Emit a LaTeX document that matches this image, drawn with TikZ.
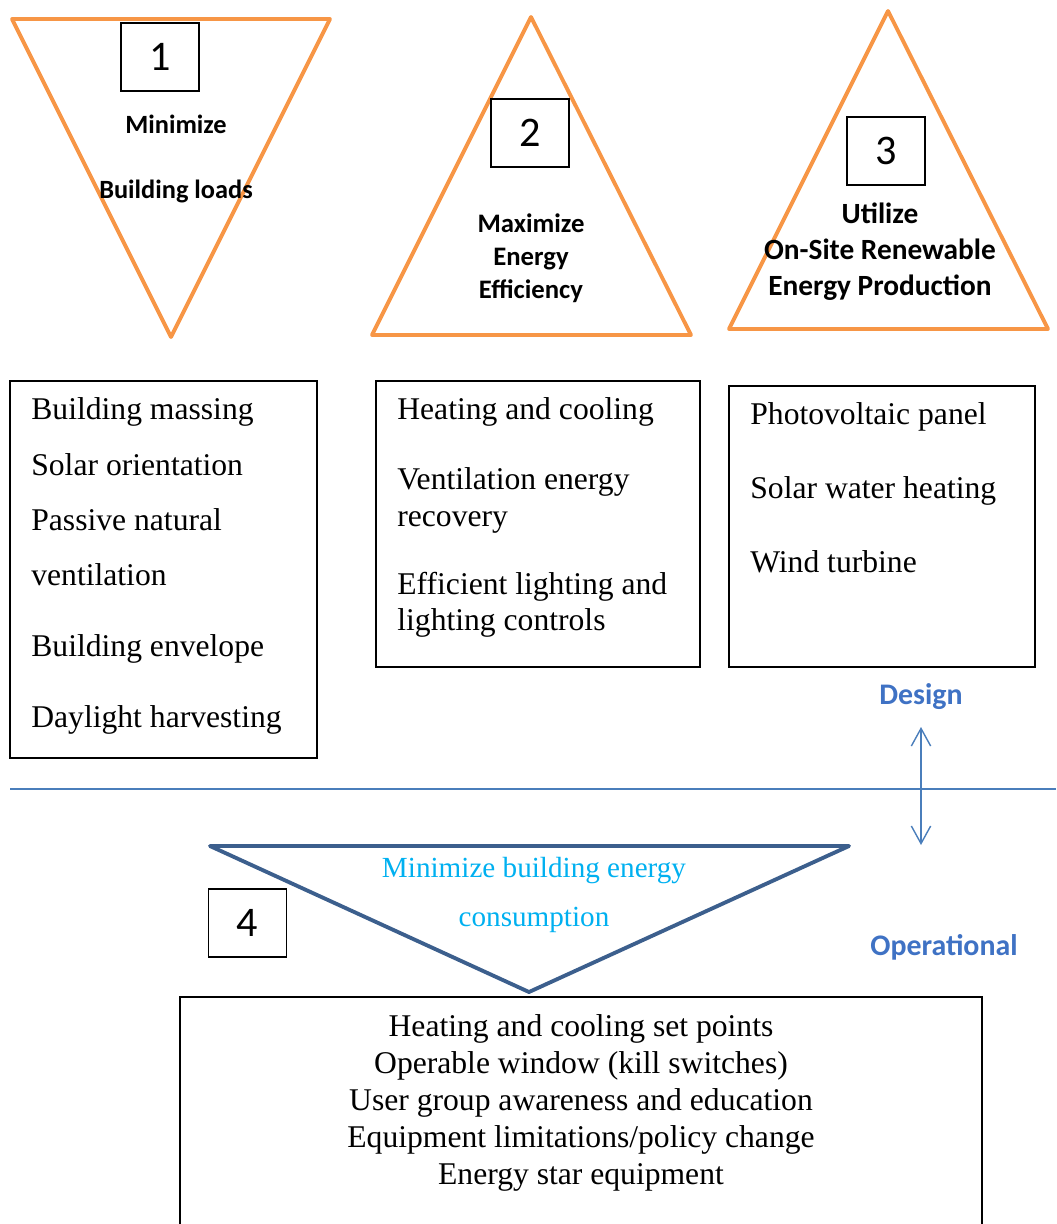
\documentclass[tikz,border=0pt]{standalone}
\usepackage{fontspec}
\setmainfont{Liberation Serif}
\newfontfamily\calfont{Carlito}
\usetikzlibrary{arrows.meta}

\definecolor{triorange}{HTML}{F79646}
\definecolor{tridblue}{HTML}{3C5F8D}
\definecolor{lineblue}{HTML}{4A7EBB}
\definecolor{cyantext}{HTML}{00B0F0}
\definecolor{labelblue}{HTML}{3F72C4}

\begin{document}
\begin{tikzpicture}[x=0.02cm,y=-0.02cm]
	\tikzstyle{tri}=[line width=2.2pt, draw=triorange, line join=round, line cap=round]
	\tikzstyle{numbox}=[draw, line width=0.6pt, inner sep=0pt, minimum width=1.56cm, minimum height=1.36cm, font=\calfont\fontsize{24}{28}\selectfont]
	\tikzstyle{listbox}=[draw, line width=0.6pt]
	\tikzstyle{item}=[anchor=base west, inner sep=0pt, font=\fontsize{18}{21}\selectfont]
	\tikzstyle{tritext}=[align=center, inner sep=0pt, font=\calfont\bfseries\fontsize{15}{19}\selectfont]
	\tikzstyle{phase}=[inner sep=0pt, text=labelblue, font=\calfont\bfseries\fontsize{17}{20}\selectfont]

	\useasboundingbox (0,0) rectangle (1056,1224);

	%% design triangles
	\draw [tri] (12,19) -- (330,19) -- (171,337) -- cycle;
	\draw [tri] (531,17) -- (691,335) -- (372,335) -- cycle;
	\draw [tri] (888,11) -- (1048,329) -- (729,329) -- cycle;

	\node [numbox] (one)   at (160,57)  {1};
	\node [numbox] (two)   at (530,133) {2};
	\node [numbox] (three) at (886,151) {3};

	\node [tritext, font=\calfont\bfseries\fontsize{15}{36.8}\selectfont] (loads) at (176,159) {Minimize\\Building loads};
	\node [tritext, font=\calfont\bfseries\fontsize{15.2}{18.7}\selectfont] (effic) at (531,258) {Maximize\\Energy\\Efficiency};
	\node [tritext, font=\calfont\bfseries\fontsize{16.7}{20.4}\selectfont] (renew) at (880,252) {Utilize\\On-Site Renewable\\Energy Production};

	%% measures
	\draw [listbox] (10,381) rectangle (317,758);
	\node [item] (massing)  at (31,419) {Building massing};
	\node [item] (orient)   at (31,475) {Solar orientation};
	\node [item] (passive)  at (31,530) {Passive natural};
	\node [item] (ventil)   at (31,585) {ventilation};
	\node [item] (envelope) at (31,656) {Building envelope};
	\node [item] (daylight) at (31,727) {Daylight harvesting};

	\draw [listbox] (376,381) rectangle (700,667);
	\node [item] (heatcool) at (397,419) {Heating and cooling};
	\node [item] (ventrec)  at (397,489) {Ventilation energy};
	\node [item] (recov)    at (397,526) {recovery};
	\node [item] (lighting) at (397,594) {Efficient lighting and};
	\node [item] (controls) at (397,630) {lighting controls};

	\draw [listbox] (729,386) rectangle (1035,667);
	\node [item] (pv)      at (750,424) {Photovoltaic panel};
	\node [item] (swh)     at (750,498) {Solar water heating};
	\node [item] (turbine) at (750,572) {Wind turbine};

	%% design / operational split
	\node [phase] (design) at (921,697) {Design};
	\node [phase] (operat) at (944,947) {Operational};
	\coordinate (arrtop) at (921,727);
	\coordinate (arrbot) at (921,845);
	\coordinate (splitl) at (10,789);
	\coordinate (splitr) at (1056,789);
	\draw [lineblue, line width=0.8pt] (splitl) -- (splitr);
	\draw [lineblue, line width=0.8pt, {Straight Barb[length=10pt,width=11pt]}-{Straight Barb[length=10pt,width=11pt]}] (arrtop) -- (arrbot);

	%% operational triangle
	\draw [line width=2.2pt, draw=tridblue, line join=round, line cap=round] (210,846) -- (849,846) -- (529,992) -- cycle;
	\node [align=center, inner sep=0pt, text=cyantext, font=\fontsize{16.6}{28.3}\selectfont] (consum) at (534,895) {Minimize building energy\\consumption};
	\node [numbox] (four) at (247.5,923) {4};

	\draw [listbox] (180,997) rectangle (982,1230);
	\node [align=center, inner sep=0pt, font=\fontsize{18}{21.1}\selectfont] (ops) at (581,1103) {Heating and cooling set points\\Operable window (kill switches)\\User group awareness and education\\Equipment limitations/policy change\\Energy star equipment};

\end{tikzpicture}
\end{document}
